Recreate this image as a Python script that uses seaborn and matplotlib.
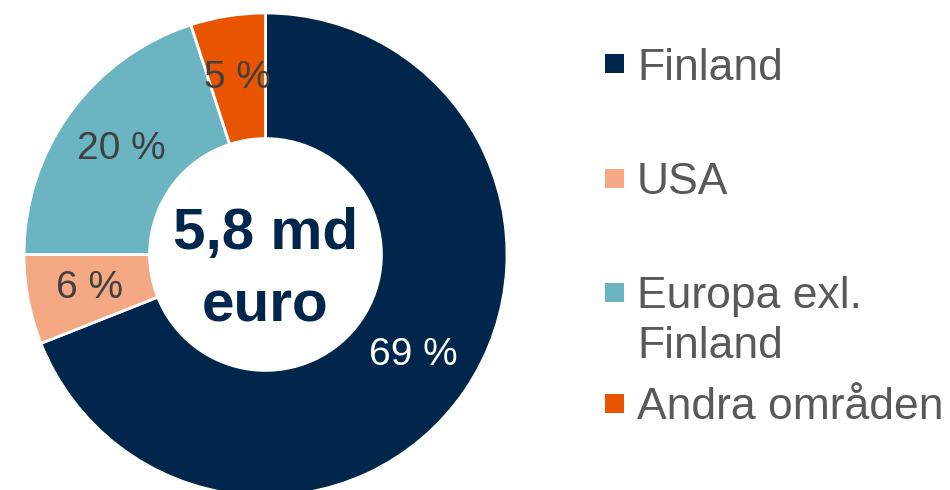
import matplotlib.pyplot as plt
import seaborn as sns
from matplotlib.patches import Rectangle

regions = ["Finland", "USA", "Europa exl.\nFinland", "Andra områden"]
shares = [69, 6, 20, 5]
colors = ["#00264B", "#F4A984", "#6BB4C2", "#E95400"]
label_colors = ["white", "#404040", "#404040", "#404040"]
center_text = "5,8 md\neuro"

sns.set_theme(style="white")
plt.rcParams["font.family"] = ["Liberation Sans", "DejaVu Sans"]

W, H = 950, 490
fig = plt.figure(figsize=(W / 100, H / 100), dpi=100)
fig.patch.set_facecolor("white")

cx, cy, r = 265.5, 254.5, 241.5
ax = fig.add_axes([(cx - r) / W, (H - cy - r) / H, 2 * r / W, 2 * r / H])

hole = 0.48
wedges, _, pct_texts = ax.pie(
    shares,
    colors=colors,
    startangle=90,
    counterclock=False,
    radius=1,
    autopct=lambda p: f"{p:.0f} %",
    pctdistance=(1 + hole) / 2,
    wedgeprops={"width": 1 - hole, "edgecolor": "white", "linewidth": 2},
)
ax.set_xlim(-1, 1)
ax.set_ylim(-1, 1)
ax.axis("off")
for t, c in zip(pct_texts, label_colors):
    t.set_color(c)
    t.set_fontsize(28)
for w in wedges:
    w.set_clip_on(False)

ax.text(0, -0.065, center_text, ha="center", va="center", fontsize=42,
        fontweight="bold", color=colors[0], linespacing=1.42)

# legend, placed by hand like the original slide
legend_y = [64, 178, 292, 403]
for name, col, y in zip(regions, colors, legend_y):
    fig.patches.append(Rectangle((605 / W, (H - y - 9.5) / H), 19 / W, 19 / H,
                                 transform=fig.transFigure, facecolor=col,
                                 edgecolor="none"))
    lines = name.split("\n")
    for i, line in enumerate(lines):
        fig.text(637 / W, (H - y - 50 * i) / H, line, ha="left",
                 va="center_baseline", fontsize=32, color="#595959")

fig.savefig("out.png", dpi=100)
